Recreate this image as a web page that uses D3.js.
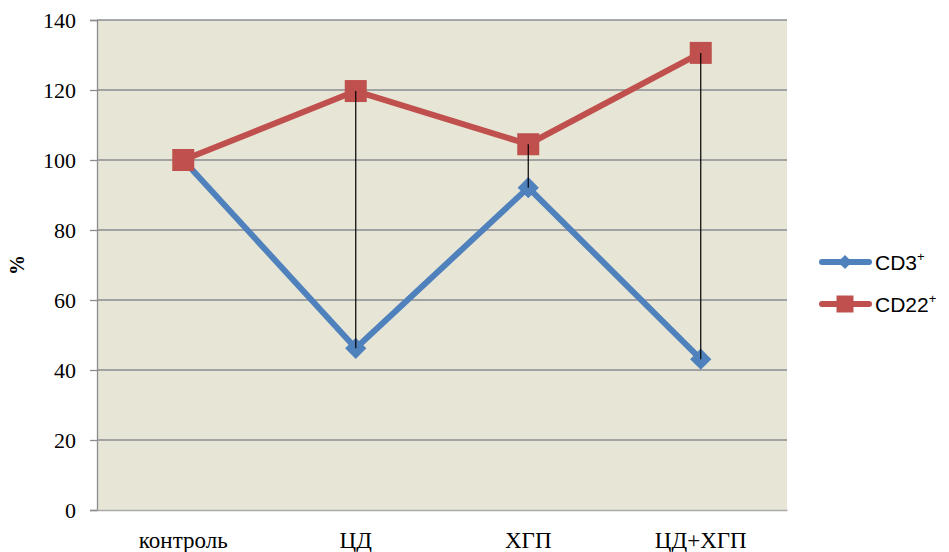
<!DOCTYPE html>
<html><head><meta charset="utf-8">
<script src="https://cdn.jsdelivr.net/npm/d3@7"></script>
<style>body{margin:0;background:#fff}svg{display:block}</style>
</head><body>
<svg id="chart" width="949" height="552" style="font-family:'Liberation Serif'">
  <text transform="translate(24,265) rotate(-90)" text-anchor="middle" style="font-family:'Liberation Serif';font-weight:bold;font-size:20px">%</text>
</svg>
<script>
const categories = ["контроль", "ЦД", "ХГП", "ЦД+ХГП"];
const cd3 = [100, 46.2, 92.1, 43.1];
const cd22 = [100, 119.7, 104.5, 130.6];
const yTicks = [0, 20, 40, 60, 80, 100, 120, 140];
const seriesNames = ["CD3", "CD22"];

const SERIF = "Liberation Serif";
const SANS = "Liberation Sans";

const svg = d3.select("#chart");
const m = {left: 97, right: 787, top: 20, bottom: 510};
const blue = "#4f81bd", red = "#c0504d";

const x = d3.scaleBand().domain(categories).range([m.left, m.right]);
const y = d3.scaleLinear().domain([0, 140]).range([m.bottom, m.top]);
const cx = c => x(c) + x.bandwidth() / 2;

// plot background
svg.insert("rect", ":first-child").attr("x", m.left).attr("y", m.top)
  .attr("width", m.right - m.left).attr("height", m.bottom - m.top)
  .attr("fill", "#e7e5d5");

// horizontal gridlines
svg.append("g").selectAll("line").data(yTicks.filter(d => d > 0)).join("line")
  .attr("x1", m.left).attr("x2", m.right)
  .attr("y1", d => y(d)).attr("y2", d => y(d))
  .attr("stroke", "#8a8c90").attr("stroke-width", 1.3);

// y axis
const yAxis = svg.append("g").attr("transform", `translate(${m.left},0)`)
  .call(d3.axisLeft(y).tickValues(yTicks).tickSize(7).tickPadding(14));
yAxis.attr("font-family", null).attr("font-size", null);
yAxis.select(".domain").attr("stroke", "#8a8c90").attr("stroke-width", 1.3);
yAxis.selectAll(".tick line").attr("stroke", "#8a8c90").attr("stroke-width", 1.3);
yAxis.selectAll(".tick text").attr("font-size", 22).attr("fill", "#000");

// x axis baseline
const xAxis = svg.append("g").attr("transform", `translate(0,${m.bottom})`)
  .call(d3.axisBottom(x).tickSize(0).tickPadding(22));
xAxis.attr("font-family", null).attr("font-size", null);
xAxis.select(".domain").attr("stroke", "#a9aaa6").attr("stroke-width", 1.5);
xAxis.selectAll(".tick text").attr("font-size", 23).attr("fill", "#000");

const line = d3.line().x((d, i) => cx(categories[i])).y(d => y(d));

// series lines
svg.append("path").datum(cd3).attr("d", line).attr("fill", "none")
  .attr("stroke", blue).attr("stroke-width", 6).attr("stroke-linejoin", "round");
svg.append("path").datum(cd22).attr("d", line).attr("fill", "none")
  .attr("stroke", red).attr("stroke-width", 6).attr("stroke-linejoin", "round");

// markers
const diamond = (g, px, py, s) => g.append("rect").attr("x", -s / 2).attr("y", -s / 2)
  .attr("width", s).attr("height", s).attr("fill", blue)
  .attr("transform", `translate(${px},${py}) rotate(45)`);
const square = (g, px, py, s) => g.append("rect").attr("x", px - s / 2).attr("y", py - s / 2)
  .attr("width", s).attr("height", s).attr("fill", red);

const mk = svg.append("g");
cd3.forEach((v, i) => diamond(mk, cx(categories[i]), y(v), 15));
cd22.forEach((v, i) => square(mk, cx(categories[i]), y(v), 22));

// high-low lines
svg.append("g").selectAll("line").data(categories).join("line")
  .attr("x1", cx).attr("x2", cx)
  .attr("y1", (c, i) => y(cd22[i])).attr("y2", (c, i) => y(cd3[i]))
  .attr("stroke", "#000").attr("stroke-width", 1.2);

// legend
const leg = svg.append("g").style("font-family", "'Liberation Sans'");
[[blue, "diamond", 262], [red, "square", 304]].forEach(([col, shape, ly], i) => {
  leg.append("line").attr("x1", 822).attr("x2", 869).attr("y1", ly).attr("y2", ly)
    .attr("stroke", col).attr("stroke-width", 6).attr("stroke-linecap", "round");
  if (shape === "diamond") diamond(leg, 845, ly, 10);
  else square(leg, 845, ly, 17);
  const t = leg.append("text").attr("x", 875).attr("y", ly + 8)
    .attr("font-size", 21).attr("fill", "#000");
  t.append("tspan").text(seriesNames[i]);
  t.append("tspan").attr("font-size", 13).attr("dy", -9).text("+");
});
</script>
</body></html>
